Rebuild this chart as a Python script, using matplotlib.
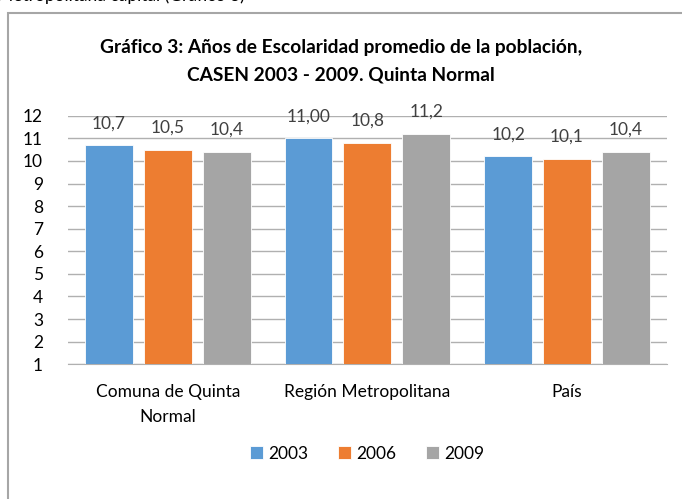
import numpy as np
import matplotlib.pyplot as plt
from matplotlib.patches import Rectangle

plt.rcParams['font.family'] = ['Lato', 'DejaVu Sans']

categorias = ['Comuna de Quinta\nNormal', 'Región Metropolitana', 'País']
anios = ['2003', '2006', '2009']
v2003 = [10.7, 11.00, 10.2]
v2006 = [10.5, 10.8, 10.1]
v2009 = [10.4, 11.2, 10.4]
etiquetas = [['10,7', '11,00', '10,2'],
             ['10,5', '10,8', '10,1'],
             ['10,4', '11,2', '10,4']]
colores = ['#5B9BD5', '#ED7D31', '#A5A5A5']

fig = plt.figure(figsize=(6.82, 4.99), dpi=100)
ax = fig.add_axes([0.0997, 0.27, 0.878, 0.498])

# marco del grafico (cortado a la derecha y abajo)
fig.patches.append(Rectangle((8 / 682, -0.2), 1.2, 0.2 + 1 - 12.5 / 499,
                             transform=fig.transFigure, fill=False,
                             edgecolor='#a6a6a6', lw=1.5))
# texto del documento, cortado arriba
fig.text(245 / 682, 1 - 1 / 499, 'Metropolitana capital (Gráfico 3)',
         ha='right', va='baseline', fontsize=12.5)

x = np.arange(len(categorias))
ancho = 0.24
paso = 0.295
series = [v2003, v2006, v2009]
for i, vals in enumerate(series):
    pos = x + (i - 1) * paso
    ax.bar(pos, vals, width=ancho, color=colores[i], edgecolor='white',
           linewidth=0.6, label=anios[i], zorder=3)
    for p, v, t in zip(pos, vals, etiquetas[i]):
        ax.annotate(t, (p, v), xytext=(0, 10), textcoords='offset points',
                    ha='center', va='bottom', fontsize=12.5, color='#404040')

ax.set_xlim(-0.5, 2.5)
ax.set_ylim(1, 12)
ax.set_yticks(range(1, 13))
ax.yaxis.grid(True, color='#b0b0b0', lw=1, zorder=0)
ax.set_axisbelow(True)
for s in ['top', 'right', 'left']:
    ax.spines[s].set_visible(False)
ax.spines['bottom'].set_color('#b0b0b0')
ax.tick_params(axis='both', length=0, labelsize=12.5, colors='black')
ax.tick_params(axis='y', pad=18)
ax.set_xticks(x)
ax.set_xticklabels(categorias, fontsize=12.5, linespacing=1.75)
ax.tick_params(axis='x', pad=14)

fig.text(0.5, 1 - 47 / 499, 'Gráfico 3: Años de Escolaridad promedio de la población,',
         ha='center', va='center', fontsize=13.8, fontweight='bold')
fig.text(0.5, 1 - 75 / 499, 'CASEN 2003 - 2009. Quinta Normal',
         ha='center', va='center', fontsize=13.8, fontweight='bold')

ax.legend(loc='center', bbox_to_anchor=(0.5, -0.36), ncol=3, frameon=False,
          fontsize=12.5, handlelength=0.75, handleheight=0.75, handletextpad=0.3,
          columnspacing=1.7)

fig.savefig('out.png', dpi=100)
